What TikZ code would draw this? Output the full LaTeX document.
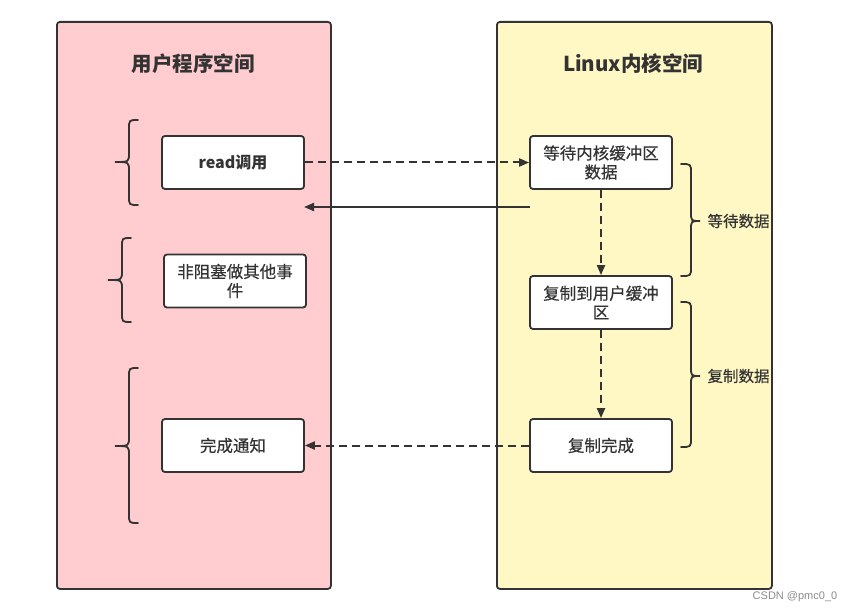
\documentclass[tikz,border=0pt]{standalone}
\usepackage{fontspec}
\setmainfont{Noto Sans CJK SC}
\newfontfamily\medfont{Noto Sans CJK SC}[FakeBold=0.4]
\newfontfamily\wmfont{Liberation Sans}
\usetikzlibrary{arrows.meta,calc}
\definecolor{linec}{HTML}{333333}
\definecolor{pinkf}{HTML}{FFCCD0}
\definecolor{yellf}{HTML}{FFF7C4}
\newcommand\mkbraceL[6]{% x0 tip, xm, x1 ends, ytop, ymid, ybot
  \draw[bracel] (#3,#4) .. controls (#2,#4) .. (#2,#4+9) -- (#2,#5-9) .. controls (#2,#5) .. (#1,#5)
    .. controls (#2,#5) .. (#2,#5+9) -- (#2,#6-9) .. controls (#2,#6) .. (#3,#6);}
\begin{document}
\begin{tikzpicture}[x=1pt,y=-1pt,
  bracel/.style={draw=linec,line width=1.8pt,line cap=round},
  panel/.style={draw=linec,line width=1.8pt,rounded corners=3pt,anchor=north west},
  box/.style={draw=linec,fill=white,line width=1.8pt,rounded corners=3pt,minimum width=142pt,minimum height=53pt,align=center,font=\medfont\fontsize{16.5}{19}\selectfont,text=linec,inner sep=0pt},
  title/.style={font=\fontsize{20.5}{24}\selectfont\bfseries,text=linec},
  lbl/.style={font=\medfont\fontsize{15.5}{18}\selectfont,text=linec,anchor=west},
  conn/.style={draw=linec,line width=2pt,-{Triangle[length=10pt,width=8pt]}},
  dsh/.style={dash pattern=on 8pt off 5pt}]
\useasboundingbox (0,0) rectangle (854,612);
\fill[white] (0,0) rectangle (854,612);
% panels
\node[panel,fill=pinkf,minimum width=274pt,minimum height=567pt] (user) at (56,21) {};
\node[panel,fill=yellf,minimum width=275pt,minimum height=567pt] (kernel) at (496,21) {};
\node[title] (t1) at (193,64) {用户程序空间};
\node[title] (t2) at (633,64) {Linux内核空间};
% boxes
\node[box,font=\fontsize{16}{19}\selectfont\bfseries] (read) at (233,162.5) {read调用};
\node[box] (nonb) at (235,281) {非阻塞做其他事\\件};
\node[box] (done) at (233,445.5) {完成通知};
\node[box] (wait) at (601,162.5) {等待内核缓冲区\\数据};
\node[box] (copy) at (601,302.5) {复制到用户缓冲\\区};
\node[box] (fin) at (601,445.5) {复制完成};
% connectors
\draw[conn,dsh] (read.east) -- (wait.west);
\coordinate (r1) at (530,207);
\coordinate (r2) at (304,207);
\draw[conn] (r1) -- (r2);
\draw[conn,dsh] (wait.south) -- (copy.north);
\draw[conn,dsh] (copy.south) -- (fin.north);
\draw[conn,dsh] (fin.west) -- (done.east);
% left braces
\mkbraceL{115}{129}{138}{120}{162}{205}
\mkbraceL{108}{122}{131}{238}{280}{322}
\mkbraceL{115}{129}{138}{368}{446}{523}
% right braces
\mkbraceL{700}{691}{681}{164}{221}{276}
\mkbraceL{700}{691}{681}{302}{376}{447}
\node[lbl] (l1) at (704,221) {等待数据};
\node[lbl] (l2) at (704,376) {复制数据};
% watermark
\node[font=\wmfont\fontsize{11}{13}\selectfont,text=black!45] (wm) at (795,597) {CSDN @pmc0\_0};
\end{tikzpicture}
\end{document}
